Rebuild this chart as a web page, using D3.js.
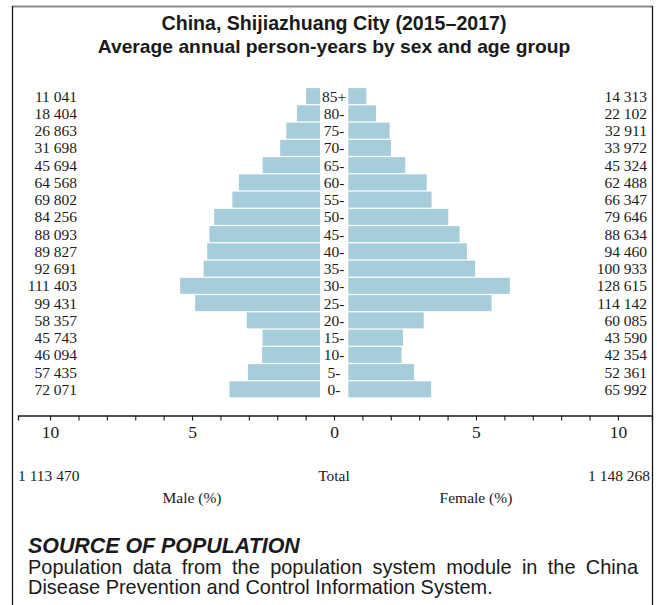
<!DOCTYPE html>
<html>
<head>
<meta charset="utf-8">
<script src="https://cdn.jsdelivr.net/npm/d3@7"></script>
<style>
  html, body { margin: 0; padding: 0; background: #fff; }
  svg { display: block; }
</style>
</head>
<body>
<svg id="chart" width="657" height="605"></svg>
<script>
// ---------------- DATA ----------------
const ageGroups = ["85+","80-","75-","70-","65-","60-","55-","50-","45-","40-","35-","30-","25-","20-","15-","10-","5-","0-"];
const malePersonYears   = [11041,18404,26863,31698,45694,64568,69802,84256,88093,89827,92691,111403,99431,58357,45743,46094,57435,72071];
const femalePersonYears = [14313,22102,32911,33972,45324,62488,66347,79646,88634,94460,100933,128615,114142,60085,43590,42354,52361,65992];
const maleTotal = 1113470;
const femaleTotal = 1148268;
const axisTicks = [-10,-9,-8,-7,-6,-5,-4,-3,-2,-1,0,1,2,3,4,5,6,7,8,9,10];
const titleLines = ["China, Shijiazhuang City (2015\u20132017)", "Average annual person-years by sex and age group"];
const sourceTitle = "SOURCE OF POPULATION";
const sourceLines = ["Population data from the population system module in the China", "Disease Prevention and Control Information System."];

// ---------------- LAYOUT ----------------
const svg = d3.select("#chart");
const barColor = "#a7cddb";
const ink = "#1a1a1a";
const serif = "'Liberation Serif', 'DejaVu Serif', serif";
const sans = "'Liberation Sans', Arial, sans-serif";
const grand = maleTotal + femaleTotal;

const centerX = 334;
const maleEdge = 320;
const femaleEdge = 348.3;
const labelSize = 15.5;

const y = d3.scaleBand().domain(ageGroups).range([87.5, 398]).paddingInner(0.07).paddingOuter(0.035);
const w = d3.scaleLinear().domain([0, 10]).range([0, 284]);
const axisScale = d3.scaleLinear().domain([-11.13, 11.2]).range([18, 652]);

// Frame
svg.append("line").attr("x1", 12).attr("x2", 653).attr("y1", 6.5).attr("y2", 6.5).attr("stroke", "#8a8a8a").attr("stroke-width", 2);
svg.append("line").attr("x1", 12.5).attr("x2", 12.5).attr("y1", 6).attr("y2", 605).attr("stroke", ink).attr("stroke-width", 1.3);
svg.append("line").attr("x1", 652.5).attr("x2", 652.5).attr("y1", 6).attr("y2", 605).attr("stroke", ink).attr("stroke-width", 1.3);

function fit(sel, target) {
  const size = +sel.attr("font-size");
  const len = sel.node().getComputedTextLength();
  sel.attr("font-size", size * target / len);
  return sel;
}

// Title
const t1 = svg.append("text").attr("x", centerX).attr("y", 30).attr("text-anchor", "middle")
  .attr("font-family", sans).attr("font-weight", "bold").attr("font-size", 17).attr("fill", ink).text(titleLines[0]);
fit(t1, 345);
const t2 = svg.append("text").attr("x", centerX).attr("y", 53).attr("text-anchor", "middle")
  .attr("font-family", sans).attr("font-weight", "bold").attr("font-size", 17).attr("fill", ink).text(titleLines[1]);
fit(t2, 473);

// Bars
const rows = ageGroups.map((a, i) => ({ age: a, m: malePersonYears[i], f: femalePersonYears[i] }));
const g = svg.append("g");
g.selectAll("rect.male").data(rows).join("rect").attr("class", "male")
  .attr("x", d => maleEdge - w(d.m / grand * 100))
  .attr("width", d => w(d.m / grand * 100))
  .attr("y", d => y(d.age)).attr("height", y.bandwidth()).attr("fill", barColor);
g.selectAll("rect.female").data(rows).join("rect").attr("class", "female")
  .attr("x", femaleEdge)
  .attr("width", d => w(d.f / grand * 100))
  .attr("y", d => y(d.age)).attr("height", y.bandwidth()).attr("fill", barColor);

const fmtSp = n => d3.format(",")(n).replace(/,/g, " ");

g.selectAll("text.age").data(rows).join("text").attr("class", "age")
  .attr("x", centerX).attr("y", d => y(d.age) + y.bandwidth() / 2 + 5.5)
  .attr("text-anchor", "middle").attr("font-family", serif).attr("font-size", labelSize).attr("fill", ink)
  .text(d => d.age);
g.selectAll("text.mnum").data(rows).join("text").attr("class", "mnum")
  .attr("x", 77).attr("y", d => y(d.age) + y.bandwidth() / 2 + 5.5)
  .attr("text-anchor", "end").attr("font-family", serif).attr("font-size", labelSize).attr("fill", ink)
  .text(d => fmtSp(d.m));
g.selectAll("text.fnum").data(rows).join("text").attr("class", "fnum")
  .attr("x", 647).attr("y", d => y(d.age) + y.bandwidth() / 2 + 5.5)
  .attr("text-anchor", "end").attr("font-family", serif).attr("font-size", labelSize).attr("fill", ink)
  .text(d => fmtSp(d.f));

// Axis
const axis = d3.axisBottom(axisScale).tickValues(axisTicks).tickSize(5).tickPadding(5)
  .tickFormat(d => (d % 5 === 0 ? String(Math.abs(d)) : ""));
const ax = svg.append("g").attr("transform", "translate(0,415.5)").call(axis);
ax.select(".domain").attr("stroke", ink).attr("stroke-width", 1.3);
ax.selectAll(".tick line").attr("stroke", ink).attr("stroke-width", 1.1);
ax.selectAll(".tick text").attr("font-family", serif).attr("font-size", 17.5).attr("fill", ink);

// Totals
const totY = 481;
svg.append("text").attr("x", 18).attr("y", totY).attr("font-family", serif).attr("font-size", labelSize).attr("fill", ink).text(fmtSp(maleTotal));
svg.append("text").attr("x", centerX).attr("y", totY).attr("text-anchor", "middle").attr("font-family", serif).attr("font-size", labelSize).attr("fill", ink).text("Total");
svg.append("text").attr("x", 650).attr("y", totY).attr("text-anchor", "end").attr("font-family", serif).attr("font-size", labelSize).attr("fill", ink).text(fmtSp(femaleTotal));
svg.append("text").attr("x", axisScale(-5)).attr("y", 503).attr("text-anchor", "middle").attr("font-family", serif).attr("font-size", labelSize).attr("fill", ink).text("Male (%)");
svg.append("text").attr("x", axisScale(5)).attr("y", 503).attr("text-anchor", "middle").attr("font-family", serif).attr("font-size", labelSize).attr("fill", ink).text("Female (%)");

// Source block
const st = svg.append("text").attr("x", 28).attr("y", 553).attr("font-family", sans).attr("font-weight", "bold")
  .attr("font-style", "italic").attr("font-size", 20).attr("fill", ink).text(sourceTitle);
fit(st, 272);

const l2 = svg.append("text").attr("x", 28).attr("y", 594).attr("font-family", sans).attr("font-size", 17).attr("fill", ink).text(sourceLines[1]);
fit(l2, 465);
const bodySize = +l2.attr("font-size");

// justified first line: place words individually
const words = sourceLines[0].split(" ");
const wg = svg.append("g");
const wt = wg.selectAll("text").data(words).join("text").attr("y", 574).attr("font-family", sans)
  .attr("font-size", bodySize).attr("fill", ink).text(d => d);
const widths = wt.nodes().map(n => n.getComputedTextLength());
const totalW = d3.sum(widths);
const gap = (638 - 28 - totalW) / (words.length - 1);
let cx = 28;
wt.each(function(d, i) { d3.select(this).attr("x", cx); cx += widths[i] + gap; });
</script>
</body>
</html>
